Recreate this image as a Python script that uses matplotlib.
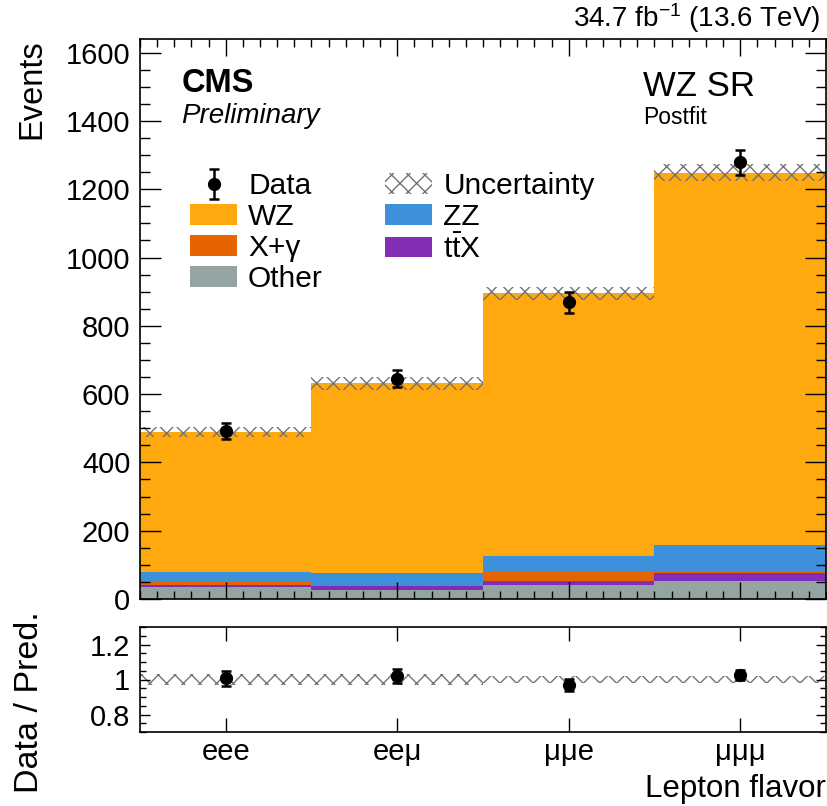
import numpy as np
import matplotlib
matplotlib.use("Agg")
import matplotlib.pyplot as plt
from matplotlib.ticker import MultipleLocator, FixedLocator

plt.rcParams['font.family'] = ['Liberation Sans', 'DejaVu Sans']
plt.rcParams['mathtext.fontset'] = 'custom'
plt.rcParams['mathtext.rm'] = 'Liberation Sans'
plt.rcParams['mathtext.it'] = 'Liberation Sans:italic'
plt.rcParams['hatch.linewidth'] = 1.0

# Postfit yields per lepton flavour channel
channels = ['eee', 'eeμ', 'μμe', 'μμμ']
other = [34, 26, 42, 54]
ttx = [7, 12, 11, 23]
xgamma = [13, 1, 27, 1]
zz = [26, 38, 46, 79]
wz = [409, 555, 770, 1092]
data = [492, 645, 869, 1279]
data_err = [22, 25, 30, 36]
unc = [15, 19, 19, 26]

# stack order, bottom to top
stack = [
    (other, '#94a4a2', 'Other'),
    (ttx, '#832db6', r'$\mathrm{t\bar{t}}$X'),
    (xgamma, '#e76300', 'X+γ'),
    (zz, '#3f90da', 'ZZ'),
    (wz, '#ffa90e', 'WZ'),
]

edges = np.arange(len(channels) + 1)
centers = edges[:-1] + 0.5
hatch_col = '0.45'

fig = plt.figure(figsize=(8.28, 8.06), dpi=100)
ax = fig.add_axes([140/828, 1 - 599/806, 686/828, 560/806])
rax = fig.add_axes([140/828, 1 - 732/806, 686/828, 105/806])

handles = {}
bottom = np.zeros(len(channels))
for vals, color, label in stack:
    top = bottom + np.array(vals)
    handles[label] = ax.stairs(top, edges, baseline=bottom, fill=True,
                               color=color, lw=0, label=label)
    bottom = top
total = bottom

unc = np.array(unc)
unc_band = ax.bar(centers, 2*unc, bottom=total - unc, width=1.0, fill=False,
                  hatch='xx', edgecolor=hatch_col, lw=0, label='Uncertainty')

dat = ax.errorbar(centers, data, yerr=data_err, fmt='o', color='black',
                  ms=8.5, elinewidth=1.8, capsize=3.5, capthick=1.8, label='Data')

ax.set_xlim(0, 4)
ax.set_ylim(0, 1640)
ax.xaxis.set_major_locator(FixedLocator(centers))
ax.xaxis.set_minor_locator(MultipleLocator(0.1))
ax.yaxis.set_major_locator(MultipleLocator(200))
ax.yaxis.set_minor_locator(MultipleLocator(50))
ax.tick_params(which='both', direction='in', top=True, right=True,
               labelbottom=False, labelsize=21, pad=7)
ax.tick_params(axis='y', which='major', length=15, width=1)
ax.tick_params(axis='y', which='minor', length=7.5, width=1)
ax.tick_params(axis='x', which='major', length=12, width=1)
ax.tick_params(axis='x', which='minor', length=6, width=1)
ax.set_ylabel('Events', fontsize=23.5, loc='top')
ax.yaxis.set_label_coords(-0.135, 1.0)

# ratio panel
ratio = np.array(data) / total
ratio_err = np.array(data_err) / total
rel_unc = unc / total
rax.bar(centers, 2*rel_unc, bottom=1 - rel_unc, width=1.0, fill=False,
        hatch='xx', edgecolor=hatch_col, lw=0)
rax.errorbar(centers, ratio, yerr=ratio_err, fmt='o', color='black',
             ms=8.5, elinewidth=1.8, capsize=3.5, capthick=1.8)
rax.set_xlim(0, 4)
rax.set_ylim(0.7, 1.3)
rax.set_xticks(centers)
rax.set_xticklabels(channels)
rax.set_yticks([0.8, 1.0, 1.2])
rax.set_yticklabels(['0.8', '1', '1.2'])
rax.yaxis.set_minor_locator(MultipleLocator(0.05))
rax.tick_params(which='both', direction='in', top=True, right=True,
                labelsize=21)
rax.tick_params(axis='x', which='major', length=10, width=1, pad=4)
rax.tick_params(axis='y', which='major', length=7, width=1, pad=7)
rax.tick_params(axis='y', which='minor', length=4, width=1)
rax.set_ylabel('Data / Pred.', fontsize=24.5)
rax.yaxis.set_label_coords(-0.138, 0.286)
rax.set_xlabel('Lepton flavor', fontsize=22.5, loc='right')
rax.xaxis.set_label_coords(1.0, -0.40)

for a in (ax, rax):
    for s in a.spines.values():
        s.set_linewidth(1.2)

leg_h = [dat, handles['WZ'], handles['X+γ'], handles['Other'],
         unc_band, handles['ZZ'], handles[r'$\mathrm{t\bar{t}}$X']]
leg_l = ['Data', 'WZ', 'X+γ', 'Other', 'Uncertainty', 'ZZ',
         r'$\mathrm{t\bar{t}}$X']
ax.legend(leg_h, leg_l, ncol=2, loc='upper left', bbox_to_anchor=(0.073, 0.7625),
          frameon=False, fontsize=21.5, handlelength=1.57, handleheight=0.67,
          handletextpad=0.37, columnspacing=2.1, labelspacing=0.1,
          borderpad=0, borderaxespad=0)

ax.text(0.06, 0.92, 'CMS', transform=ax.transAxes, fontsize=23.5,
        fontweight='bold', va='center')
ax.text(0.06, 0.8625, 'Preliminary', transform=ax.transAxes, fontsize=20,
        style='italic', va='center')
ax.text(0.733, 0.916, 'WZ SR', transform=ax.transAxes, fontsize=25, va='center')
ax.text(0.733, 0.859, 'Postfit', transform=ax.transAxes, fontsize=16.5,
        va='center')
fig.text(820/828, 1 - 18/806, r'34.7 fb$^{-1}$ (13.6 TeV)', ha='right',
         va='center', fontsize=20)

fig.savefig('out.png', dpi=100)
